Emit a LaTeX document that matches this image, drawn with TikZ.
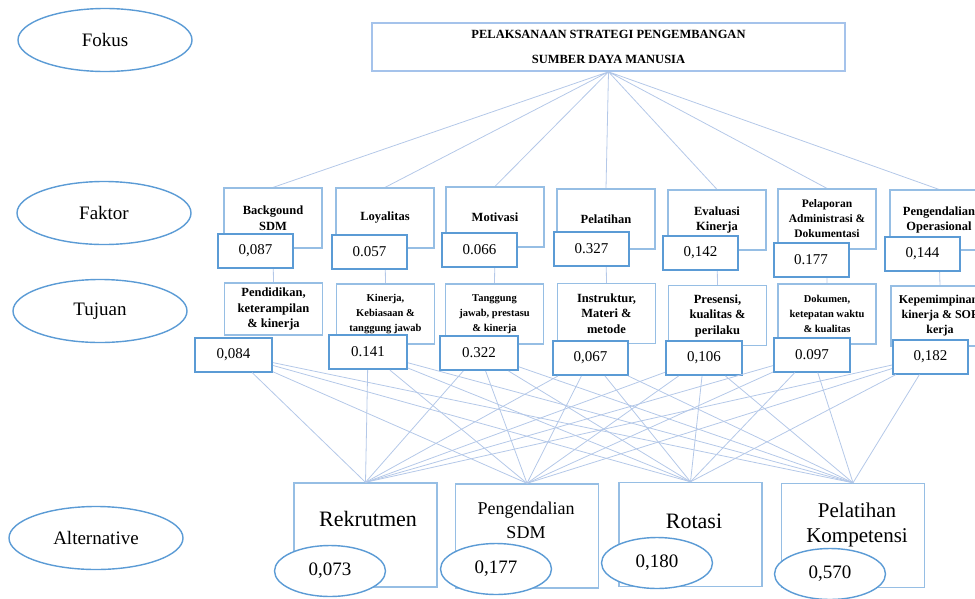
\documentclass[tikz,border=0pt]{standalone}
\usepackage{fontspec}
\setmainfont{Liberation Serif}
\definecolor{lvlblue}{RGB}{91,155,213}
\definecolor{boxblue}{RGB}{150,190,228}
\definecolor{topblue}{RGB}{165,195,235}
\definecolor{linkblue}{RGB}{180,200,232}
\usetikzlibrary{shapes.geometric,backgrounds}

\begin{document}
\begin{tikzpicture}[
  x=1pt,y=-1pt,
  lvl/.style={ellipse,draw=lvlblue,line width=1.4pt,minimum width=174pt,minimum height=63pt,
              font=\fontsize{19}{22}\selectfont},
  crit/.style={draw=boxblue,line width=1.2pt,fill=white,minimum width=98pt,minimum height=60pt,
               align=center,inner sep=1pt,font=\fontsize{12.5}{15.5}\selectfont\bfseries},
  val/.style={draw=lvlblue,line width=2pt,fill=white,minimum width=75pt,minimum height=34pt,
              font=\fontsize{15}{18}\selectfont},
  alt/.style={draw=boxblue,line width=1.4pt,fill=white,minimum width=143pt,minimum height=104pt},
  alttxt/.style={align=center,font=\fontsize{22}{26}\selectfont},
  altval/.style={ellipse,draw=lvlblue,line width=1.4pt,fill=white,minimum width=111pt,
                 minimum height=51pt,font=\fontsize{19}{22}\selectfont},
  link/.style={draw=linkblue,line width=0.8pt},
]
  \useasboundingbox (0,0) rectangle (975,598);
  \clip (0,0) rectangle (975,598);

  % Level labels
  \node[lvl] (fokus) at (105,40) {Fokus};
  \node[lvl] (faktor) at (104,213) {Faktor};
  \node[lvl] (tujuan) at (100,311) {Tujuan};
  \node[lvl] (alternatif) at (96,538) {Alternative};

  % Goal
  \node[draw=topblue,line width=1.6pt,minimum width=473pt,minimum height=48pt,align=center,
        font=\fontsize{12.5}{25}\selectfont\bfseries]
    (goal) at (608.5,47) {PELAKSANAAN STRATEGI PENGEMBANGAN\\SUMBER DAYA MANUSIA};

  % Factors
  \node[crit] (f1) at (273,218) {Backgound\\SDM};
  \node[crit] (f2) at (385,218) {Loyalitas};
  \node[crit] (f3) at (495,217) {Motivasi};
  \node[crit] (f4) at (606,219) {Pelatihan};
  \node[crit] (f5) at (717,220) {Evaluasi\\Kinerja};
  \node[crit,font=\fontsize{11.5}{15}\selectfont\bfseries] (f6) at (827,219) {Pelaporan\\Administrasi \&\\Dokumentasi};
  \node[crit] (f7) at (939,220) {Pengendalian\\Operasional};

  % Factor weights
  \node[val] (vf1) at (255.5,250.5) {0,087};
  \node[val] (vf2) at (369.5,251.5) {0.057};
  \node[val] (vf3) at (479.5,249.5) {0.066};
  \node[val] (vf4) at (591.5,249) {0.327};
  \node[val] (vf5) at (700.5,253) {0,142};
  \node[val] (vf6) at (811,259.5) {0.177};
  \node[val] (vf7) at (922.5,254) {0,144};

  % Objectives
  \node[crit,minimum height=52pt] (t1) at (273.5,309) {Pendidikan,\\keterampilan\\\& kinerja};
  \node[crit,font=\fontsize{10.5}{15}\selectfont\bfseries] (t2) at (385.5,314) {Kinerja,\\Kebiasaan \&\\tanggung jawab};
  \node[crit,font=\fontsize{10.5}{15}\selectfont\bfseries] (t3) at (494.5,314) {Tanggung\\jawab, prestasu\\\& kinerja};
  \node[crit] (t4) at (606.5,313.5) {Instruktur,\\Materi \&\\metode};
  \node[crit] (t5) at (717.5,315.5) {Presensi,\\kualitas \&\\perilaku};
  \node[crit,font=\fontsize{10.5}{15}\selectfont\bfseries] (t6) at (827,314) {Dokumen,\\ketepatan waktu\\\& kualitas};
  \node[crit,font=\fontsize{12}{15}\selectfont\bfseries] (t7) at (940,316) {Kepemimpinan,\\kinerja \& SOP\\kerja};

  % Objective weights
  \node[val,minimum width=77pt] (vt1) at (233.5,354.5) {0,084};
  \node[val,minimum width=78pt] (vt2) at (368,352) {0.141};
  \node[val,minimum width=78pt] (vt3) at (479,353) {0.322};
  \node[val] (vt4) at (590.5,358) {0,067};
  \node[val,minimum width=76pt] (vt5) at (704,358) {0,106};
  \node[val,minimum width=76pt] (vt6) at (812,354.5) {0.097};
  \node[val] (vt7) at (930.5,356.5) {0,182};

  % Alternatives
  \node[alt] (a1) at (365.5,535) {};
  \node[alt] (a2) at (527,536) {};
  \node[alt] (a3) at (690.5,534.5) {};
  \node[alt] (a4) at (853,535.5) {};
  \node[alttxt] (r1) at (368,519) {Rekrutmen};
  \node[alttxt,font=\fontsize{18}{24}\selectfont] (r2) at (526,520) {Pengendalian\\SDM};
  \node[alttxt] (r3) at (694,521) {Rotasi};
  \node[alttxt,font=\fontsize{21}{25}\selectfont] (r4) at (857,525) {Pelatihan\\Kompetensi};

  % Alternative weights
  \node[altval] (e1) at (330,571) {0,073};
  \node[altval] (e2) at (496,569) {0,177};
  \node[altval] (e3) at (657,563) {0,180};
  \node[altval] (e4) at (830,574) {0,570};

  \begin{scope}[on background layer]
    % Goal -> factors
    \draw[link] (goal.south) -- (f1.north) (goal.south) -- (f2.north) (goal.south) -- (f3.north)
                (goal.south) -- (f4.north) (goal.south) -- (f5.north) (goal.south) -- (f6.north)
                (goal.south) -- (f7.north);
    % Factors -> objectives
    \draw[link] (f1.south) -- (t1.north) (f2.south) -- (t2.north) (f3.south) -- (t3.north)
                (f4.south) -- (t4.north) (f5.south) -- (t5.north) (f6.south) -- (t6.north)
                (f7.south) -- (t7.north);
  \end{scope}

  % Objectives -> alternatives
  \draw[link] (vt1) -- (a1.north) (vt1) -- (a2.north) (vt1) -- (a3.north) (vt1) -- (a4.north);
  \draw[link] (vt2) -- (a1.north) (vt2) -- (a2.north) (vt2) -- (a3.north) (vt2) -- (a4.north);
  \draw[link] (vt3) -- (a1.north) (vt3) -- (a2.north) (vt3) -- (a3.north) (vt3) -- (a4.north);
  \draw[link] (vt4) -- (a1.north) (vt4) -- (a2.north) (vt4) -- (a3.north) (vt4) -- (a4.north);
  \draw[link] (vt5) -- (a1.north) (vt5) -- (a2.north) (vt5) -- (a3.north) (vt5) -- (a4.north);
  \draw[link] (vt6) -- (a1.north) (vt6) -- (a2.north) (vt6) -- (a3.north) (vt6) -- (a4.north);
  \draw[link] (vt7) -- (a1.north) (vt7) -- (a2.north) (vt7) -- (a3.north) (vt7) -- (a4.north);
\end{tikzpicture}
\end{document}
